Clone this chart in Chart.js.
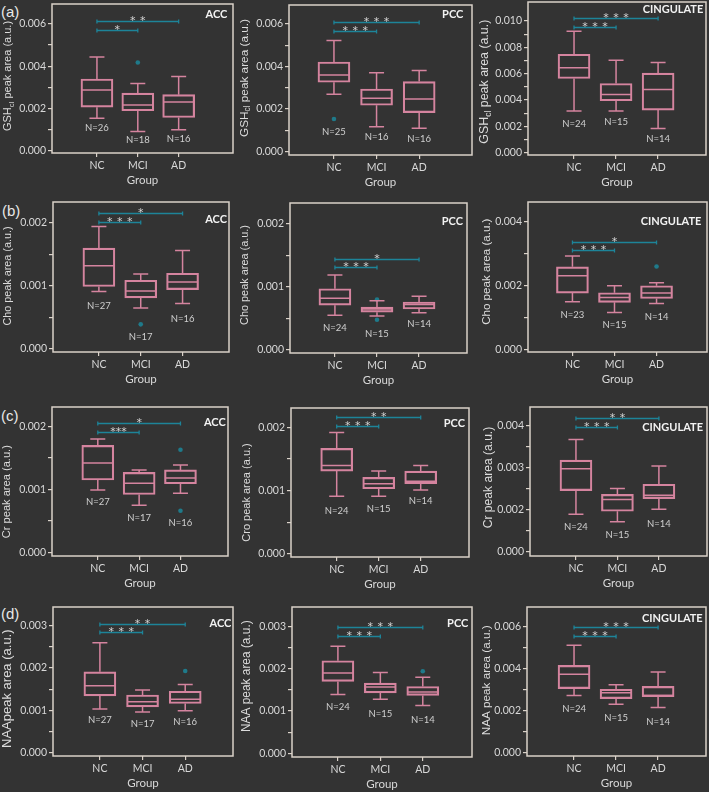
<!DOCTYPE html>
<html><head><meta charset="utf-8">
<script src="https://cdn.jsdelivr.net/npm/chart.js@4.4.1/dist/chart.umd.min.js"></script>
<style>
html,body{margin:0;padding:0}
body{background:#333333;width:709px;height:792px;overflow:hidden;position:relative}
canvas{position:absolute}
.lbl{position:absolute;color:#e8e8e8;font:15px 'Liberation Sans',Arial,sans-serif;line-height:15px;white-space:nowrap}
</style></head><body>
<div class="lbl" style="left:1px;top:4px">(a)</div>
<div class="lbl" style="left:2px;top:203px">(b)</div>
<div class="lbl" style="left:1px;top:408px">(c)</div>
<div class="lbl" style="left:1px;top:606px">(d)</div>
<script>
// ---------- data ----------
const groups = ['NC', 'MCI', 'AD'];
// panel order: (a) ACC, PCC, CINGULATE, (b) ..., (c) ..., (d) ...
const regionNames = ['ACC','PCC','CINGULATE','ACC','PCC','CINGULATE','ACC','PCC','CINGULATE','ACC','PCC','CINGULATE'];
const yTitles = [
  ['GSH','cl',' peak area (a.u.)'], ['GSH','cl',' peak area (a.u.)'], ['GSH','cl',' peak area (a.u.)'],
  ['Cho','',' peak area (a.u.)'], ['Cho','',' peak area (a.u.)'], ['Cho','',' peak area (a.u.)'],
  ['Cr','',' peak area (a.u.)'], ['Cro','',' peak area (a.u.)'], ['Cr','',' peak area (a.u.)'],
  ['NAA','','peak area (a.u.)'], ['NAA','',' peak area (a.u.)'], ['NAA','',' peak area (a.u.)']
];
const whiskerLow = [
  [0.00154,0.00091,0.00099],[0.00269,0.00117,0.00110],[0.00316,0.00316,0.00184],
  [0.00091,0.00065,0.00072],[0.00055,0.00054,0.00059],[0.00149,0.00115,0.00143],
  [0.00099,0.00075,0.00094],[0.00091,0.00091,0.00101],[0.00189,0.00171,0.00201],
  [0.00103,0.00096,0.00099],[0.00139,0.00128,0.00113],[0.00272,0.00230,0.00214]
];
const quart1 = [
  [0.00206,0.00189,0.00157],[0.00326,0.00218,0.00183],[0.00563,0.00394,0.00323],
  [0.00099,0.00081,0.00094],[0.00071,0.00060,0.00065],[0.00176,0.00147,0.00159],
  [0.00115,0.00092,0.00109],[0.00131,0.00103,0.00111],[0.00245,0.00196,0.00226],
  [0.00134,0.00108,0.00116],[0.00170,0.00143,0.00137],[0.00304,0.00257,0.00266]
];
const medians = [
  [0.00287,0.00216,0.00230],[0.00360,0.00251,0.00247],[0.00644,0.00442,0.00480],
  [0.00132,0.00092,0.00106],[0.00082,0.00065,0.00072],[0.00230,0.00162,0.00176],
  [0.00142,0.00110,0.00118],[0.00140,0.00111,0.00115],[0.00297,0.00224,0.00234],
  [0.00158,0.00120,0.00126],[0.00190,0.00157,0.00145],[0.00372,0.00285,0.00272]
];
const quart3 = [
  [0.00339,0.00272,0.00265],[0.00421,0.00294,0.00329],[0.00747,0.00525,0.00604],
  [0.00160,0.00109,0.00120],[0.00097,0.00068,0.00076],[0.00258,0.00177,0.00199],
  [0.00170,0.00127,0.00131],[0.00167,0.00121,0.00131],[0.00317,0.00236,0.00260],
  [0.00191,0.00136,0.00145],[0.00219,0.00166,0.00158],[0.00415,0.00301,0.00315]
];
const whiskerHigh = [
  [0.00443,0.00318,0.00351],[0.00522,0.00371,0.00381],[0.00922,0.00702,0.00684],
  [0.00194,0.00119,0.00156],[0.00119,0.00078,0.00085],[0.00292,0.00199,0.00208],
  [0.00180,0.00131,0.00139],[0.00192,0.00131,0.00140],[0.00366,0.00250,0.00303],
  [0.00260,0.00148,0.00161],[0.00253,0.00191,0.00180],[0.00510,0.00323,0.00383]
];
// outliers: [group position (1=NC,2=MCI,3=AD), value]
const outliers = [
  [[2,0.00417]],[[1,0.00153]],[],
  [[2,0.00039]],[[2,0.00080],[2,0.00048]],[[3,0.00259]],
  [[3,0.00163],[3,0.00066]],[],[],
  [[3,0.00193]],[[3,0.00194]],[]
];
const nCounts = [
  [26,18,16],[25,16,16],[24,15,14],
  [27,17,16],[24,15,14],[23,15,14],
  [27,17,16],[24,15,14],[24,15,14],
  [27,17,16],[24,15,14],[24,15,14]
];
// significance: [NC vs MCI, NC vs AD]
const sigStars = [
  ['*','* *'],['* * *','* * *'],['* * *','* * *'],
  ['* * *','*'],['* * *','*'],['* * *','*'],
  ['***','*'],['* * *','* *'],['* * *','* *'],
  ['* * *','* *'],['* * *','* * *'],['* * *','* * *']
];
const yTickValues = [
  [0,0.001,0.002,0.003,0.004,0.005,0.006],
  [0,0.001,0.002,0.003,0.004,0.005,0.006],
  [0,0.001,0.002,0.003,0.004,0.005,0.006,0.007,0.008,0.009,0.010],
  [0,0.0005,0.001,0.0015,0.002],
  [0,0.0005,0.001,0.0015,0.002],
  [0,0.001,0.002,0.003,0.004],
  [0,0.0005,0.001,0.0015,0.002],
  [0,0.0005,0.001,0.0015,0.002],
  [0.001,0.0015,0.002,0.0025,0.003,0.0035,0.004],
  [0,0.0005,0.001,0.0015,0.002,0.0025,0.003],
  [0,0.0005,0.001,0.0015,0.002,0.0025,0.003],
  [0,0.001,0.002,0.003,0.004,0.005,0.006]
];
const yTickLabels = [
  ['0.000','','0.002','','0.004','','0.006'],
  ['0.000','','0.002','','0.004','','0.006'],
  ['0.000','','0.002','','0.004','','0.006','','0.008','','0.010'],
  ['0.000','','0.001','','0.002'],
  ['0.000','','0.001','','0.002'],
  ['0.000','','0.002','','0.004'],
  ['0.000','','0.001','','0.002'],
  ['0.000','','0.001','','0.002'],
  ['0.000','','0.002','','0.003','','0.004'],
  ['0.000','','0.001','','0.002','','0.003'],
  ['0.000','','0.001','','0.002','','0.003'],
  ['0.000','','0.002','','0.004','','0.006']
];

// ---------- layout (positions / styles) ----------
const layout = [
  {L:52,T:4,R:233,B:153, xr:[-0.10,4.33], yr:[-0.00011,0.00694], yt:[8.3,76], fs:11, rt:[5.6,10], sig:[0.00573,0.00614], nY:[0.00107,0.00052,0.00055]},
  {L:289,T:5,R:472,B:155, xr:[-0.055,4.24], yr:[-0.00016,0.00689], yt:[244.3,78], fs:11.8, rt:[8.7,9], sig:[0.00569,0.00609], nY:[0.00091,0.00067,0.0006]},
  {L:528,T:2,R:706,B:155, xr:[-0.095,4.14], yr:[-0.00018,0.01144], yt:[485,81.7], fs:12.4, rt:[2.7,7], sig:[0.00955,0.01025], nY:[0.00215,0.00235,0.00101]},
  {L:53,T:202,R:229,B:352, xr:[-0.097,4.11], yr:[-0.000048,0.00233], yt:[8.3,276], fs:10.8, rt:[2,17.7], sig:[0.00202,0.00216], nY:[0.00069,0.00019,0.00048]},
  {L:290,T:203,R:467,B:353, xr:[-0.068,4.14], yr:[-0.000048,0.00233], yt:[245,275], fs:10.9, rt:[4,18.4], sig:[0.00132,0.00145], nY:[0.00035,0.00025,0.00041]},
  {L:528,T:202,R:707,B:352, xr:[-0.057,4.2], yr:[-0.000084,0.00461], yt:[486.7,271.7], fs:11.6, rt:[5.6,19.4], sig:[0.00311,0.00337], nY:[0.00109,0.00075,0.00102]},
  {L:52,T:407,R:228,B:556, xr:[-0.108,4.15], yr:[-0.000058,0.00231], yt:[6.7,491.7], fs:11.1, rt:[2.3,15.4], sig:[0.00192,0.00206], nY:[0.0008,0.00055,0.00047]},
  {L:291,T:408,R:469,B:557, xr:[-0.088,4.15], yr:[-0.000053,0.00231], yt:[246.7,492.5], fs:11, rt:[4,15], sig:[0.00203,0.00217], nY:[0.00067,0.00071,0.00083]},
  {L:530,T:407,R:707,B:556, xr:[-0.108,4.16], yr:[0.0009,0.00443], yt:[488.3,477.5], fs:12.1, rt:[4,20.6], sig:[0.00396,0.00417], nY:[0.00159,0.00141,0.00167]},
  {L:53,T:607,R:233,B:756, xr:[-0.099,4.12], yr:[-0.000087,0.00345], yt:[7.3,688.7], fs:13, rt:[1.7,16.7], sig:[0.00285,0.00305], nY:[0.00077,0.00067,0.00071]},
  {L:292,T:607,R:472,B:757, xr:[-0.082,4.16], yr:[-0.000087,0.00346], yt:[246.7,676.2], fs:11.9, rt:[3.7,16.7], sig:[0.00277,0.00298], nY:[0.00109,0.00094,0.0008]},
  {L:527,T:607,R:706,B:756, xr:[-0.119,4.14], yr:[-0.00016,0.00692], yt:[486.7,680.3], fs:11.7, rt:[3.3,11.7], sig:[0.00554,0.00597], nY:[0.00206,0.00165,0.00146]}
];

const PINK = '#d5849f', TEAL = '#1d8499', DOT = '#1f7a8a', FRAME = '#dad2c9', TXT = '#d8d8d8';
const AXW = 52, AXH = 42, PADT = 8, PADR = 6, BOXW = 32, CAP = 7.5;
Chart.defaults.font.family = 'Lato';

function makeExtras(k) {
  const lay = layout[k];
  return {
    id: 'extras' + k,
    afterDatasetsDraw(chart) {
      const {ctx, chartArea: ca, scales: {x, y}} = chart;
      ctx.save();
      ctx.strokeStyle = PINK; ctx.lineWidth = 1.5;
      for (let g = 0; g < 3; g++) {
        const cx = x.getPixelForValue(g + 1);
        const yLo = y.getPixelForValue(whiskerLow[k][g]);
        const yQ1 = y.getPixelForValue(quart1[k][g]);
        const yMd = y.getPixelForValue(medians[k][g]);
        const yQ3 = y.getPixelForValue(quart3[k][g]);
        const yHi = y.getPixelForValue(whiskerHigh[k][g]);
        ctx.beginPath();
        ctx.moveTo(cx, yQ3); ctx.lineTo(cx, yHi);
        ctx.moveTo(cx, yQ1); ctx.lineTo(cx, yLo);
        ctx.moveTo(cx - CAP, yHi); ctx.lineTo(cx + CAP, yHi);
        ctx.moveTo(cx - CAP, yLo); ctx.lineTo(cx + CAP, yLo);
        ctx.moveTo(cx - BOXW / 2 + 0.75, yMd); ctx.lineTo(cx + BOXW / 2 - 0.75, yMd);
        ctx.stroke();
      }
      const x1 = x.getPixelForValue(1);
      [2, 3].forEach((to, j) => {
        const x2 = x.getPixelForValue(to);
        const yy = Math.round(y.getPixelForValue(lay.sig[j])) + 0.5;
        ctx.strokeStyle = TEAL; ctx.lineWidth = 1.3;
        ctx.beginPath();
        ctx.moveTo(x1, yy); ctx.lineTo(x2, yy);
        ctx.moveTo(x1, yy - 2); ctx.lineTo(x1, yy + 2);
        ctx.moveTo(x2, yy - 2); ctx.lineTo(x2, yy + 2);
        ctx.stroke();
        const s = sigStars[k][j];
        const n = s.replace(/ /g, '').length;
        const gap = s.indexOf(' ') >= 0 ? 10 : 5.5;
        const mid = (x1 + x2) / 2;
        ctx.fillStyle = '#d6d6d6';
        ctx.font = '11px "DejaVu Sans"';
        ctx.textAlign = 'center'; ctx.textBaseline = 'alphabetic';
        for (let i = 0; i < n; i++) {
          ctx.fillText('*', mid + (i - (n - 1) / 2) * gap, yy + 2);
        }
      });
      ctx.fillStyle = '#cfcfcf';
      ctx.font = '9.5px Lato';
      ctx.textAlign = 'center'; ctx.textBaseline = 'middle';
      for (let g = 0; g < 3; g++) {
        ctx.fillText('N=' + nCounts[k][g], x.getPixelForValue(g + 1), y.getPixelForValue(lay.nY[g]));
      }
      ctx.fillStyle = '#f2f2f2';
      ctx.font = 'bold 11px Lato';
      ctx.textAlign = 'right'; ctx.textBaseline = 'middle';
      ctx.fillText(regionNames[k], ca.right - lay.rt[0], ca.top + lay.rt[1]);
      ctx.strokeStyle = FRAME; ctx.lineWidth = 1.5;
      ctx.strokeRect(ca.left, ca.top, ca.right - ca.left, ca.bottom - ca.top);
      const t = yTitles[k], fs = lay.fs;
      const cxT = lay.yt[0] - (lay.L - AXW), cyT = lay.yt[1] - (lay.T - PADT);
      ctx.translate(cxT, cyT); ctx.rotate(-Math.PI / 2);
      ctx.fillStyle = '#dcdcdc'; ctx.textAlign = 'left'; ctx.textBaseline = 'middle';
      const f1 = fs + 'px "Liberation Sans"', f2 = (fs * 0.7) + 'px "Liberation Sans"';
      ctx.font = f1; const w1 = ctx.measureText(t[0]).width, w3 = ctx.measureText(t[2]).width;
      ctx.font = f2; const w2 = t[1] ? ctx.measureText(t[1]).width : 0;
      let sx = -(w1 + w2 + w3) / 2;
      ctx.font = f1; ctx.fillText(t[0], sx, 0); sx += w1;
      if (t[1]) { ctx.font = f2; ctx.fillText(t[1], sx, fs * 0.3); sx += w2; }
      ctx.font = f1; ctx.fillText(t[2], sx, 0);
      ctx.restore();
    }
  };
}

layout.forEach((lay, k) => {
  const cv = document.createElement('canvas');
  const W = lay.R - lay.L + AXW + PADR, H = lay.B - lay.T + PADT + AXH;
  cv.width = W; cv.height = H;
  cv.style.width = W + 'px'; cv.style.height = H + 'px';
  cv.style.left = (lay.L - AXW) + 'px'; cv.style.top = (lay.T - PADT) + 'px';
  document.body.appendChild(cv);
  new Chart(cv, {
    type: 'bar',
    data: {
      datasets: [
        {
          type: 'bar',
          data: groups.map((g, i) => ({x: i + 1, y: [quart1[k][i], quart3[k][i]]})),
          backgroundColor: 'rgba(0,0,0,0)', borderColor: PINK, borderWidth: 1.5,
          borderSkipped: false, barThickness: BOXW
        },
        {
          type: 'scatter',
          data: outliers[k].map(o => ({x: o[0], y: o[1]})),
          pointRadius: 2.3, pointBackgroundColor: DOT, pointBorderWidth: 0, showLine: false
        }
      ]
    },
    options: {
      responsive: false, animation: false, events: [],
      layout: {padding: {left: 0, top: PADT, right: PADR, bottom: 0}},
      plugins: {legend: {display: false}, tooltip: {enabled: false}},
      scales: {
        x: {
          type: 'linear', min: lay.xr[0], max: lay.xr[1], offset: false,
          afterBuildTicks: ax => { ax.ticks = [1, 2, 3].map(v => ({value: v})); },
          afterFit: ax => { ax.height = AXH; ax.paddingLeft = 0; ax.paddingRight = 0; },
          ticks: {callback: (v, i) => groups[i], color: TXT, font: {family: 'Lato', size: 10.5}, padding: 2, autoSkip: false, maxRotation: 0, minRotation: 0},
          grid: {offset: false, drawOnChartArea: false, drawTicks: true, tickLength: 4, color: FRAME, lineWidth: 1.2},
          border: {display: false},
          title: {display: true, text: 'Group', color: TXT, font: {family: 'Lato', size: 11.5}, padding: {top: 0, bottom: 8}}
        },
        y: {
          type: 'linear', min: lay.yr[0], max: lay.yr[1], beginAtZero: false,
          afterBuildTicks: ax => { ax.ticks = yTickValues[k].map(v => ({value: v})); },
          afterFit: ax => { ax.width = AXW; ax.paddingTop = 0; ax.paddingBottom = 0; },
          ticks: {callback: (v, i) => yTickLabels[k][i], color: TXT, font: {family: 'Lato', size: 10.5}, padding: 2, autoSkip: false},
          grid: {drawOnChartArea: false, drawTicks: true, tickLength: 4, color: FRAME, lineWidth: 1.2},
          border: {display: false}
        }
      }
    },
    plugins: [makeExtras(k)]
  });
});
</script>
</body></html>
